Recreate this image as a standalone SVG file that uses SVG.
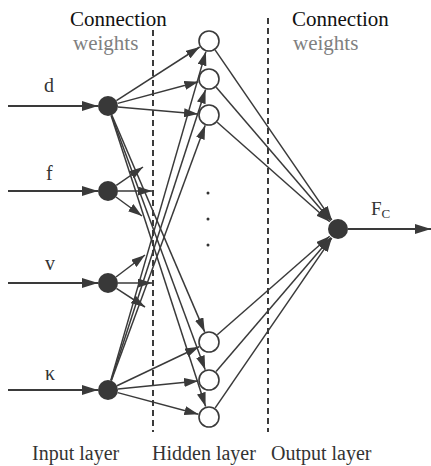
<svg xmlns="http://www.w3.org/2000/svg" width="431" height="466" viewBox="0 0 431 466">
  <style>
    .lbl { font-family: "Liberation Serif", "Times New Roman", serif; fill: #333; }
    .hdr { font-family: "Liberation Serif", "Times New Roman", serif; font-size: 21px; fill: #111; }
    .wts { font-family: "Liberation Serif", "Times New Roman", serif; font-size: 21px; fill: #808080; }
    .layer { font-family: "Liberation Serif", "Times New Roman", serif; font-size: 20px; fill: #333; }
    .in { fill: #383838; }
    .hid { fill: #fff; stroke: #3a3a3a; stroke-width: 1.6; }
    .edge { stroke: #3a3a3a; stroke-width: 1.5; fill: none; marker-end: url(#tip); }
    .feed { stroke: #3a3a3a; stroke-width: 2; fill: none; marker-end: url(#tipBig); }
    .sep { stroke: #3a3a3a; stroke-width: 2; stroke-dasharray: 6 4; fill: none; }
  </style>
  <defs>
    <marker id="tip" markerUnits="userSpaceOnUse" markerWidth="14" markerHeight="9" refX="14" refY="4.5" orient="auto">
      <path d="M0,0 L14,4.5 L0,9 z" fill="#3a3a3a"/>
    </marker>
    <marker id="tipBig" markerUnits="userSpaceOnUse" markerWidth="16" markerHeight="10" refX="16" refY="5" orient="auto">
      <path d="M0,0 L16,5 L0,10 z" fill="#3a3a3a"/>
    </marker>
  </defs>
  <rect width="431" height="466" fill="#fff"/>

  <!-- layer separators -->
  <g id="separators">
    <line class="sep" x1="153" y1="30" x2="153" y2="432"/>
    <line class="sep" x1="268" y1="18" x2="268" y2="432"/>
  </g>

  <!-- headings -->
  <g id="headings">
    <text class="hdr" x="70" y="26">Connection</text>
    <text class="wts" x="73" y="50">weights</text>
    <text class="hdr" x="292" y="26">Connection</text>
    <text class="wts" x="293" y="50">weights</text>
  </g>

  <g id="connectors">
    <!-- external inputs -->
    <line class="feed" x1="8" y1="106" x2="98" y2="106"/>
    <line class="feed" x1="8" y1="191" x2="98" y2="191"/>
    <line class="feed" x1="8" y1="283" x2="98" y2="283"/>
    <line class="feed" x1="8" y1="390" x2="98" y2="390"/>

    <!-- d to hidden -->
    <line class="edge" x1="116.4" y1="100.6" x2="199.7" y2="47.0"/>
    <line class="edge" x1="117.7" y1="103.4" x2="198.4" y2="81.8"/>
    <line class="edge" x1="118" y1="106.9" x2="198.0" y2="114.0"/>
    <line class="edge" x1="111.9" y1="115.2" x2="204.7" y2="331.9"/>
    <line class="edge" x1="111.5" y1="115.4" x2="205.2" y2="369.7"/>
    <line class="edge" x1="111.1" y1="115.5" x2="205.6" y2="406.5"/>

    <!-- kappa to hidden -->
    <line class="edge" x1="110.8" y1="380.4" x2="205.9" y2="51.6"/>
    <line class="edge" x1="111.1" y1="380.5" x2="205.6" y2="89.5"/>
    <line class="edge" x1="111.4" y1="380.6" x2="205.2" y2="125.3"/>
    <line class="edge" x1="117" y1="385.7" x2="199.1" y2="346.7"/>
    <line class="edge" x1="118" y1="389" x2="198.1" y2="381.1"/>
    <line class="edge" x1="117.7" y1="392.6" x2="198.4" y2="414.2"/>

    <!-- f stubs -->
    <line class="edge" x1="116.3" y1="185.3" x2="143" y2="167"/>
    <line class="edge" x1="118" y1="191" x2="152" y2="191"/>
    <line class="edge" x1="116" y1="197" x2="142" y2="216"/>

    <!-- v stubs -->
    <line class="edge" x1="116" y1="277" x2="145" y2="255"/>
    <line class="edge" x1="118" y1="283" x2="152" y2="283"/>
    <line class="edge" x1="116.4" y1="288.4" x2="145" y2="307"/>

    <!-- hidden to output -->
    <line class="edge" x1="215.2" y1="50.1" x2="331.8" y2="219.9"/>
    <line class="edge" x1="216.2" y1="87.3" x2="330.8" y2="220.7"/>
    <line class="edge" x1="217.2" y1="122.3" x2="329.8" y2="221.7"/>
    <line class="edge" x1="217.3" y1="334.8" x2="329.7" y2="236.2"/>
    <line class="edge" x1="216.1" y1="371.6" x2="330.9" y2="237.4"/>
    <line class="edge" x1="215.2" y1="407.9" x2="331.8" y2="238.1"/>

    <!-- network output -->
    <line class="feed" x1="348" y1="229" x2="431" y2="229"/>
  </g>

  <!-- input layer -->
  <g id="in-d"><circle class="in" cx="108" cy="106" r="10"/><text class="lbl" x="44" y="92" font-size="20">d</text></g>
  <g id="in-f"><circle class="in" cx="108" cy="191" r="10"/><text class="lbl" x="46" y="180" font-size="20">f</text></g>
  <g id="in-v"><circle class="in" cx="108" cy="283" r="10"/><text class="lbl" x="45" y="270" font-size="20">v</text></g>
  <g id="in-kappa"><circle class="in" cx="108" cy="390" r="10"/><text class="lbl" x="45" y="380" font-size="20">κ</text></g>

  <!-- hidden layer -->
  <g id="hid-1"><circle class="hid" cx="209" cy="41" r="10"/></g>
  <g id="hid-2"><circle class="hid" cx="209" cy="79" r="10"/></g>
  <g id="hid-3"><circle class="hid" cx="209" cy="115" r="10"/></g>
  <g id="hid-ellipsis">
    <circle cx="208" cy="193" r="1.5" fill="#333"/>
    <circle cx="208" cy="219" r="1.5" fill="#333"/>
    <circle cx="208" cy="245" r="1.5" fill="#333"/>
  </g>
  <g id="hid-4"><circle class="hid" cx="209" cy="342" r="10"/></g>
  <g id="hid-5"><circle class="hid" cx="209" cy="380" r="10"/></g>
  <g id="hid-6"><circle class="hid" cx="209" cy="417" r="10"/></g>

  <!-- output layer -->
  <g id="out-fc">
    <circle class="in" cx="338" cy="229" r="10"/>
    <text class="lbl" x="371" y="215" font-size="19">F<tspan font-size="13" dy="3">C</tspan></text>
  </g>

  <!-- layer captions -->
  <g id="captions">
    <text class="layer" x="32" y="460">Input layer</text>
    <text class="layer" x="152" y="460">Hidden layer</text>
    <text class="layer" x="271" y="460">Output layer</text>
  </g>
</svg>
